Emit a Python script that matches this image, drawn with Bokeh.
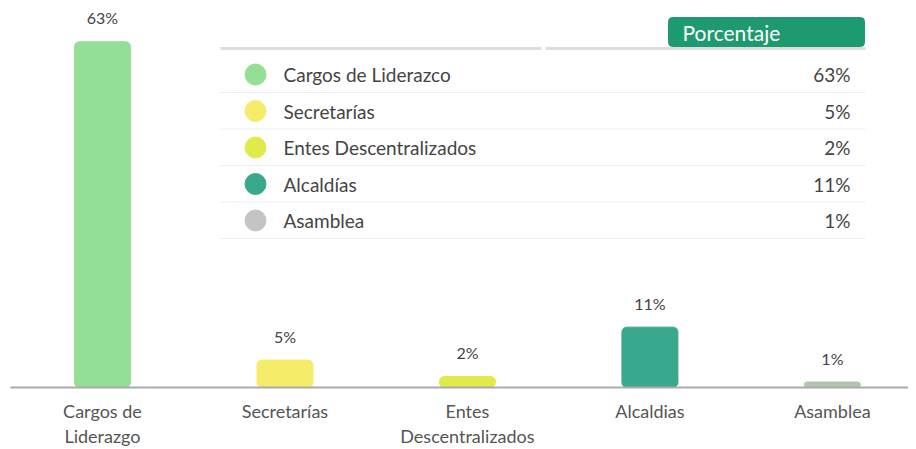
from bokeh.plotting import figure
from bokeh.models import ColumnDataSource, Range1d, FixedTicker
from bokeh.core.properties import value
from bokeh.embed import file_html
from bokeh.resources import INLINE

# ---- data ----
categories = ["Cargos de Liderazgo", "Secretarías", "Entes Descentralizados", "Alcaldias", "Asamblea"]
axis_labels = ["Cargos de\nLiderazgo", "Secretarías", "Entes\nDescentralizados", "Alcaldias", "Asamblea"]
table_names = ["Cargos de Liderazco", "Secretarías", "Entes Descentralizados", "Alcaldías", "Asamblea"]
percentages = [63, 5, 2, 11, 1]
bar_colors = ["#95DE95", "#F5EC6A", "#E0EA4A", "#3AA88C", "#AFC6AA"]
dot_colors = ["#95DE95", "#F5EC6A", "#E0EA4A", "#3AA88C", "#C4C4C4"]
header = "Porcentaje"

FONT = "Lato"
FW, FH = 898, 382
idx = list(range(len(categories)))

p = figure(x_range=Range1d(-0.504, 4.417), y_range=Range1d(0, 69.6),
           frame_width=FW, frame_height=FH,
           min_border_left=10, min_border_right=0, min_border_top=5, min_border_bottom=54,
           output_backend="svg", toolbar_location=None)
p.extra_x_ranges = {"px": Range1d(0, FW)}
p.extra_y_ranges = {"px": Range1d(0, FH)}

src = ColumnDataSource(dict(x=idx, val=percentages, color=bar_colors,
                            lab=[f"{v}%" for v in percentages]))
p.vbar(x="x", top="val", width=0.307, color="color", source=src, border_radius=5)
p.text(x="x", y="val", text="lab", source=src, text_align="center", text_baseline="middle",
       y_offset=-24, text_font=value(FONT), text_font_size="16px", text_color="#444444")

# ---- table (frame pixel coordinates, y measured from top) ----
def fy(y):
    return FH - y

n = len(table_names)
row_y = [69 + 36.5 * i for i in range(n)]
sep_y = [87 + 36.5 * i for i in range(n)]
x0, x1 = 210, 855

p.segment(x0=[x0, 535], x1=[531, x1], y0=[fy(43)] * 2, y1=[fy(43)] * 2,
          line_color="#DDDDDD", line_width=3, x_range_name="px", y_range_name="px")
p.segment(x0=[x0] * n, x1=[x1] * n, y0=[fy(y) for y in sep_y], y1=[fy(y) for y in sep_y],
          line_color="#EEEEEE", line_width=1, x_range_name="px", y_range_name="px")
p.quad(left=[658], right=[854], top=[fy(12)], bottom=[fy(41)], color="#1E9A70",
       border_radius=4, x_range_name="px", y_range_name="px")
p.text(x=[672], y=[fy(27)], text=[header], text_align="left", text_baseline="middle",
       text_font=value(FONT), text_font_size="21px", text_color="white",
       x_range_name="px", y_range_name="px")

tsrc = ColumnDataSource(dict(x_dot=[245] * n, x_name=[273] * n, x_val=[840] * n,
                             y=[fy(y) for y in row_y], name=table_names, color=dot_colors,
                             val=[f"{v}%" for v in percentages]))
p.scatter(x="x_dot", y="y", size=21, color="color", source=tsrc,
          x_range_name="px", y_range_name="px")
p.text(x="x_name", y="y", text="name", source=tsrc, text_align="left", text_baseline="middle",
       text_font=value(FONT), text_font_size="19px", text_color="#444444",
       x_range_name="px", y_range_name="px")
p.text(x="x_val", y="y", text="val", source=tsrc, text_align="right", text_baseline="middle",
       text_font=value(FONT), text_font_size="19px", text_color="#444444",
       x_range_name="px", y_range_name="px")

# ---- axes / styling ----
p.yaxis.visible = False
p.xgrid.visible = False
p.ygrid.visible = False
p.outline_line_color = None
p.xaxis.ticker = FixedTicker(ticks=idx)
p.xaxis.axis_line_color = "#AAAAAA"
p.xaxis.axis_line_width = 2
p.xaxis.major_tick_line_color = None
p.xaxis.minor_tick_line_color = None
p.xaxis.major_label_overrides = {i: lab for i, lab in zip(idx, axis_labels)}
p.xaxis.major_label_text_font = FONT
p.xaxis.major_label_text_font_size = "18px"
p.xaxis.major_label_text_color = "#555555"
p.xaxis.major_label_text_line_height = 1.15
p.xaxis.major_label_standoff = 6

open("out.html", "w").write(file_html(p, INLINE))
